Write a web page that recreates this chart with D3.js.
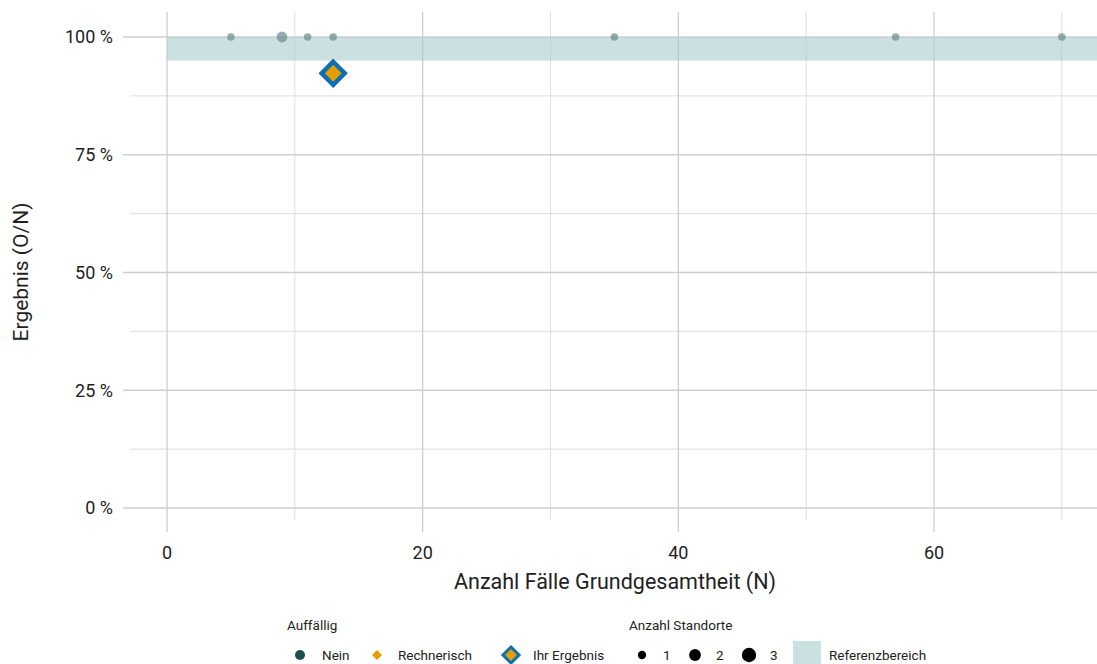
<!DOCTYPE html>
<html>
<head>
<meta charset="utf-8">
<script src="https://cdn.jsdelivr.net/npm/d3@7"></script>
<style>
  body { margin: 0; background: #fff; }
  text { font-family: "Roboto", sans-serif; fill: #222; }
  .legend text { font-family: "Liberation Sans Narrow", "Roboto", sans-serif; }
</style>
</head>
<body>
<script>
// data
const fallzahl = [5, 9, 11, 13, 35, 57, 70];
const ergebnis = [100, 100, 100, 100, 100, 100, 100];
const standorte = [1, 2, 1, 1, 1, 1, 1];
const ihrN = 13;
const ihrErgebnis = 12 / 13 * 100;
const refLow = 95, refHigh = 100;
const xTicks = [0, 20, 40, 60];
const xMinor = [10, 30, 50, 70];
const yTicks = [0, 25, 50, 75, 100];
const yMinor = [12.5, 37.5, 62.5, 87.5];

const width = 1097, height = 664;
const panel = { left: 123, right: 1097, top: 12, bottom: 532 };

let svg = d3.select("body").append("svg")
    .attr("width", width)
    .attr("height", height);

let x = d3.scaleLinear().domain([0, 60]).range([167, 934]);
let y = d3.scaleLinear().domain([0, 100]).range([508, 37]);
let r = d3.scaleSqrt().domain([1, 3]).range([3.8, 6.6]);
// legend keys are drawn a bit larger
let rLegend = d3.scaleSqrt().domain([1, 3]).range([4.2, 7.2]);

svg.append("defs").append("clipPath").attr("id", "clip")
    .append("rect")
    .attr("x", panel.left).attr("y", panel.top)
    .attr("width", panel.right - panel.left).attr("height", panel.bottom - panel.top);

// grid
let grid = svg.append("g");
grid.selectAll(".ymin").data(yMinor).enter().append("line")
    .attr("x1", 130).attr("x2", panel.right)
    .attr("y1", d => y(d)).attr("y2", d => y(d))
    .attr("stroke", "#dedede").attr("stroke-width", 1);
grid.selectAll(".xmin").data(xMinor).enter().append("line")
    .attr("x1", d => x(d)).attr("x2", d => x(d))
    .attr("y1", panel.top).attr("y2", 520)
    .attr("stroke", "#dedede").attr("stroke-width", 1);
grid.selectAll(".ymaj").data(yTicks).enter().append("line")
    .attr("x1", panel.left).attr("x2", panel.right)
    .attr("y1", d => y(d)).attr("y2", d => y(d))
    .attr("stroke", "#cfcfcf").attr("stroke-width", 1.3);
grid.selectAll(".xmaj").data(xTicks).enter().append("line")
    .attr("x1", d => x(d)).attr("x2", d => x(d))
    .attr("y1", panel.top).attr("y2", panel.bottom)
    .attr("stroke", "#cfcfcf").attr("stroke-width", 1.3);

// reference band
svg.append("rect")
    .attr("clip-path", "url(#clip)")
    .attr("x", x(0)).attr("y", y(refHigh))
    .attr("width", panel.right - x(0))
    .attr("height", y(refLow) - y(refHigh))
    .attr("fill", "#a9cbcd").attr("opacity", 0.6);

// points
svg.append("g").selectAll("circle")
    .data(fallzahl.map((d, i) => ({ n: d, v: ergebnis[i], s: standorte[i] })))
    .enter().append("circle")
    .attr("cx", d => x(d.n)).attr("cy", d => y(d.v))
    .attr("r", d => r(d.s))
    .attr("fill", "#6f9391").attr("opacity", 0.75);

// Ihr Ergebnis
let diamond = (cx, cy, s) => `M${cx},${cy - s}L${cx + s},${cy}L${cx},${cy + s}L${cx - s},${cy}Z`;
svg.append("path").attr("d", diamond(x(ihrN), y(ihrErgebnis), 11.5))
    .attr("fill", "#e69f00").attr("stroke", "#0b6fb3").attr("stroke-width", 4.5);
svg.append("path").attr("d", diamond(x(ihrN), y(ihrErgebnis), 5))
    .attr("fill", "#e69f00");

// axes labels
svg.append("g").selectAll("text").data(yTicks).enter().append("text")
    .attr("x", 113).attr("y", d => y(d)).attr("dy", "0.36em")
    .attr("text-anchor", "end").attr("font-size", 18)
    .text(d => d + " %");
svg.append("g").selectAll("text").data(xTicks).enter().append("text")
    .attr("x", d => x(d)).attr("y", 559)
    .attr("text-anchor", "middle").attr("font-size", 18)
    .text(d => d);
svg.append("text")
    .attr("x", (panel.left + panel.right) / 2 + 5).attr("y", 589)
    .attr("text-anchor", "middle").attr("font-size", 21.5)
    .text("Anzahl Fälle Grundgesamtheit (N)");
svg.append("text")
    .attr("transform", `translate(28, ${(panel.top + panel.bottom) / 2}) rotate(-90)`)
    .attr("text-anchor", "middle").attr("font-size", 21)
    .text("Ergebnis (O/N)");

// legend
let lg = svg.append("g").attr("class", "legend");
let ly = 655;
let fs = 13.5;
lg.append("text").attr("x", 287).attr("y", 630).attr("font-size", fs).text("Auffällig");
lg.append("text").attr("x", 629).attr("y", 630).attr("font-size", fs).text("Anzahl Standorte");
lg.append("circle").attr("cx", 300).attr("cy", ly).attr("r", 5).attr("fill", "#1d4f4c");
lg.append("text").attr("x", 322).attr("y", ly).attr("dy", "0.35em").attr("font-size", fs).text("Nein");
lg.append("path").attr("d", diamond(377, ly, 5)).attr("fill", "#e69f00");
lg.append("text").attr("x", 398).attr("y", ly).attr("dy", "0.35em").attr("font-size", fs).text("Rechnerisch");
lg.append("path").attr("d", diamond(511, ly, 8)).attr("fill", "#e69f00")
    .attr("stroke", "#0b6fb3").attr("stroke-width", 3);
lg.append("text").attr("x", 533).attr("y", ly).attr("dy", "0.35em").attr("font-size", fs).text("Ihr Ergebnis");
let sizeX = [642, 695, 749];
lg.selectAll(".sz").data([1, 2, 3]).enter().append("circle")
    .attr("cx", (d, i) => sizeX[i]).attr("cy", ly)
    .attr("r", d => rLegend(d)).attr("fill", "#000");
lg.selectAll(".szl").data([1, 2, 3]).enter().append("text")
    .attr("x", (d, i) => sizeX[i] + 21).attr("y", ly).attr("dy", "0.35em")
    .attr("font-size", fs).text(d => d);
lg.append("rect").attr("x", 793).attr("y", 641).attr("width", 28).attr("height", 23)
    .attr("fill", "#a9cbcd").attr("opacity", 0.6);
lg.append("text").attr("x", 829).attr("y", ly).attr("dy", "0.35em").attr("font-size", fs).text("Referenzbereich");
</script>
</body>
</html>
